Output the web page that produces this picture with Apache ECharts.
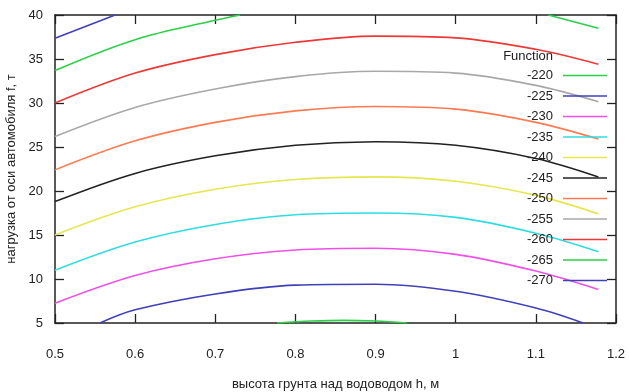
<!DOCTYPE html>
<html>
<head>
<meta charset="utf-8">
<script src="https://cdn.jsdelivr.net/npm/echarts@6/dist/echarts.min.js"></script>
<style>
  html, body { margin: 0; padding: 0; background: #fff; }
  #chart { width: 629px; height: 392px; }
</style>
</head>
<body>
<div id="chart"></div>
<script>
// Contour levels of the function, one polyline per level (h in metres, f in tonnes)
const levels = ['-220', '-225', '-230', '-235', '-240', '-245', '-250', '-255', '-260', '-265', '-270'];
const levelColors = ['#2bcf48', '#4040b8', '#f050e6', '#2fdde0', '#e6e64e', '#222222',
                     '#ff7a50', '#a8a8a8', '#ee3838', '#2bcf48', '#4040b8'];

// Sampled points of each contour: [h, f]; '-' breaks a line into separate pieces
const c220 = [[0.777, 5], [0.82, 5.22], [0.86, 5.3], [0.9, 5.22], [0.939, 5]];
const c225 = [[0.556, 5], [0.6, 6.5], [0.7, 8.3], [0.8, 9.3], [0.9, 9.4], [1.0, 8.6], [1.1, 6.7], [1.159, 5]];
const c230 = [[0.5, 7.25], [0.6, 10.4], [0.7, 12.3], [0.8, 13.3], [0.9, 13.5], [1.0, 12.8], [1.1, 10.9], [1.178, 8.8]];
const c235 = [[0.5, 11.0], [0.6, 14.2], [0.7, 16.2], [0.8, 17.3], [0.9, 17.5], [1.0, 17.0], [1.1, 15.2], [1.178, 13.1]];
const c240 = [[0.5, 15.0], [0.6, 18.2], [0.7, 20.2], [0.8, 21.3], [0.9, 21.6], [1.0, 21.1], [1.1, 19.5], [1.178, 17.4]];
const c245 = [[0.5, 18.8], [0.6, 22.0], [0.7, 24.0], [0.8, 25.2], [0.9, 25.6], [1.0, 25.2], [1.1, 23.7], [1.178, 21.6]];
const c250 = [[0.5, 22.4], [0.6, 25.7], [0.7, 27.8], [0.8, 29.1], [0.9, 29.6], [1.0, 29.3], [1.1, 27.8], [1.178, 25.9]];
const c255 = [[0.5, 26.2], [0.6, 29.5], [0.7, 31.6], [0.8, 33.0], [0.9, 33.6], [1.0, 33.4], [1.1, 32.0], [1.178, 30.15]];
const c260 = [[0.5, 30.0], [0.6, 33.4], [0.7, 35.5], [0.8, 36.9], [0.9, 37.6], [1.0, 37.4], [1.1, 36.1], [1.178, 34.4]];
const c265 = [[0.5, 33.7], [0.6, 37.2], [0.7, 39.4], [0.731, 40], [0.9, '-'], [1.1155, 40], [1.178, 38.5]];
const c270 = [[0.5, 37.35], [0.575, 40]];
const contours = [c220, c225, c230, c235, c240, c245, c250, c255, c260, c265, c270];

// Axis settings
const xMin = 0.5, xMax = 1.2, xStep = 0.1;
const yMin = 5, yMax = 40, yStep = 5;
const xTitle = 'высота грунта над водоводом h, м';
const yTitle = 'нагрузка от оси автомобиля f, т';
const legendTitle = 'Function';

const ink = '#222';

const frameLine = { show: true, onZero: false, lineStyle: { color: ink, width: 1.5 } };
const frameTick = { show: true, inside: true, length: 9, lineStyle: { color: ink, width: 1.3 } };

const chart = echarts.init(document.getElementById('chart'));

chart.setOption({
  backgroundColor: '#fff',
  animation: false,
  grid: { left: 55, right: 13, top: 15, bottom: 69, outerBoundsMode: 'none' },
  title: {
    text: legendTitle,
    right: 76, top: 50, padding: 0,
    textStyle: { fontSize: 13, fontWeight: 'normal', color: ink }
  },
  legend: {
    data: levels,
    orient: 'vertical',
    right: 22, top: 69, padding: 0,
    align: 'right',
    icon: 'rect',
    itemWidth: 44, itemHeight: 1.6, itemGap: 7.5,
    selectedMode: false,
    textStyle: { fontSize: 13, color: ink, padding: [0, 5, 0, 0] }
  },
  xAxis: [
    { type: 'value', position: 'bottom', min: xMin, max: xMax, interval: xStep,
      axisLine: frameLine, axisTick: frameTick, splitLine: { show: false },
      axisLabel: { margin: 25, fontSize: 13, color: ink },
      name: xTitle, nameLocation: 'middle', nameGap: 55,
      nameTextStyle: { fontSize: 13, color: ink } },
    { type: 'value', position: 'top', min: xMin, max: xMax, interval: xStep,
      axisLine: frameLine, axisTick: frameTick, splitLine: { show: false },
      axisLabel: { show: false } }
  ],
  yAxis: [
    { type: 'value', position: 'left', min: yMin, max: yMax, interval: yStep,
      axisLine: frameLine, axisTick: frameTick, splitLine: { show: false },
      axisLabel: { margin: 12, fontSize: 13, color: ink },
      name: yTitle, nameLocation: 'middle', nameGap: 35,
      nameTextStyle: { fontSize: 13, color: ink } },
    { type: 'value', position: 'right', min: yMin, max: yMax, interval: yStep,
      axisLine: frameLine, axisTick: frameTick, splitLine: { show: false },
      axisLabel: { show: false } }
  ],
  series: levels.map((name, i) => ({
    name: name,
    type: 'line',
    xAxisIndex: 0,
    yAxisIndex: 0,
    data: contours[i],
    symbol: 'none',
    smooth: 0.35,
    connectNulls: false,
    color: levelColors[i],
    itemStyle: { color: levelColors[i] },
    lineStyle: { color: levelColors[i], width: 1.6 }
  }))
});
</script>
</body>
</html>
